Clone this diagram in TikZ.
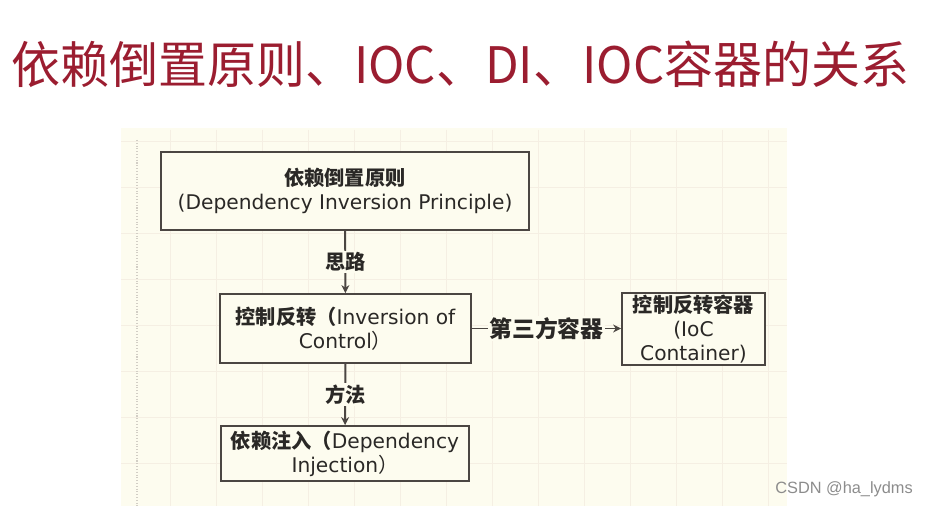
\documentclass[tikz,border=0pt]{standalone}
\usepackage{fontspec}
\setmainfont{DejaVu Sans}
\newfontfamily\cjk{Noto Sans CJK SC}
\newfontfamily\markfont{Liberation Sans}
\usetikzlibrary{arrows.meta}

\definecolor{titlered}{HTML}{9B1D30}
\definecolor{panelcream}{HTML}{FDFCEF}
\definecolor{gridtint}{HTML}{F5EFE3}
\definecolor{boxgray}{HTML}{4B4642}
\definecolor{inkgray}{HTML}{2A2826}

\tikzset{
    box/.style={draw=boxgray, line width=1.1pt, fill=panelcream, align=center,
        text=inkgray, inner sep=0pt, font=\fontsize{11.5}{13.7}\selectfont},
    conn/.style={draw=boxgray, line width=1.1pt, -{Stealth[length=4.5pt,width=4.5pt]}},
    lbl/.style={fill=panelcream, inner sep=1pt, text=inkgray,
        font=\cjk\bfseries\fontsize{11.5}{14}\selectfont},
}

\begin{document}
\begin{tikzpicture}[x=0.02cm, y=-0.02cm]
            \useasboundingbox (0,0) rectangle (927,506);

            % panel with faint grid
            \begin{scope}
                \fill[panelcream] (121,128) rectangle (787,506);
                \foreach \gx in {170,216,...,770}{
                    \draw[gridtint, line width=0.4pt] (\gx,130) -- (\gx,506);
                }
                \foreach \gy in {141,187,...,500}{
                    \draw[gridtint, line width=0.4pt] (121,\gy) -- (787,\gy);
                }
                \draw[gridtint!70!gray, line width=0.6pt, densely dotted] (137,140) -- (137,506);
            \end{scope}

            % title
            \node[anchor=west, text=titlered, inner sep=0pt, xscale=0.975,
                font=\cjk\fontsize{28.6}{30}\selectfont] (title) at (11,64)
                {依赖倒置原则、IOC、DI、IOC容器的关系};

            % boxes
            \node[box, minimum width=7.36cm, minimum height=1.56cm] (dip) at (345,191)
                {{\cjk\bfseries 依赖倒置原则}\\(Dependency Inversion Principle)};
            \node[box, minimum width=5.02cm, minimum height=1.38cm] (ioc) at (345.5,328.5)
                {{\cjk\bfseries 控制反转（}Inversion of\\Control{\cjk ）}};
            \node[box, minimum width=4.96cm, minimum height=1.1cm] (di) at (345,453.5)
                {{\cjk\bfseries 依赖注入（}Dependency\\Injection{\cjk ）}};
            \node[box, minimum width=2.86cm, minimum height=1.44cm] (cont) at (693.5,329)
                {{\cjk\bfseries 控制反转容器}\\(IoC\\Container)};

            % connectors
            \draw[conn] (dip) -- node[lbl] {思路} (ioc);
            \draw[conn] (ioc) -- node[lbl] {方法} (di);
            \draw[conn] (ioc) -- node[lbl, font=\cjk\bfseries\fontsize{13}{15}\selectfont] {第三方容器} (ioc -| cont.west);

            % watermark
            \node[anchor=west, inner sep=0pt, text=black!45, font=\markfont\fontsize{9.3}{11}\selectfont]
                (mark) at (775,489) {CSDN @ha\_lydms};
        \end{tikzpicture}
\end{document}
